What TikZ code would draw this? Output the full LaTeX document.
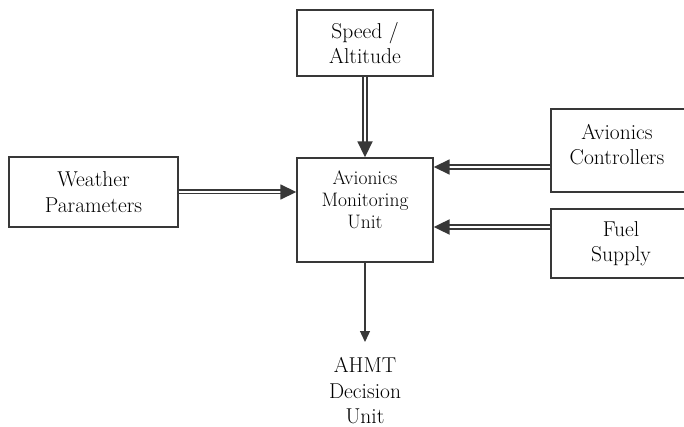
\documentclass[tikz,border=0pt]{standalone}
\usepackage{fontspec}
\usetikzlibrary{positioning,arrows.meta}

\begin{document}
\begin{tikzpicture}[x=1pt,y=-1pt,
  unitbox/.style={draw=black!78,line width=1.4pt,align=center,inner sep=2pt,
    font=\fontsize{21.5}{25.5}\selectfont},
  monlabel/.style={align=center,font=\fontsize{19.5}{22}\selectfont},
  feed/.style={draw=black!78,line width=1.8pt,double,double distance=2pt,
    -{Triangle[length=16pt,width=15pt]}},
  result/.style={draw=black!78,line width=1.3pt,-{Triangle[length=11pt,width=10pt]}}]
\useasboundingbox[fill=white] (0,0) rectangle (684,427);
\node[unitbox,minimum width=136pt,minimum height=66pt] (speed) at (365,43) {Speed /\\Altitude};
\node[unitbox,minimum width=136pt,minimum height=104pt,
  label={[monlabel,yshift=10pt]center:Avionics\\Monitoring\\Unit}] (mon) at (365,210) {};
\node[unitbox,minimum width=169pt,minimum height=70pt] (weather) at (93.5,192) {Weather\\Parameters};
\node[unitbox,minimum width=140pt,minimum height=83pt,
  label={[unitbox,draw=none,yshift=6pt,xshift=-4pt]center:Avionics\\Controllers}] (ctrl) at (621,150.5) {};
\node[unitbox,minimum width=140pt,minimum height=69pt] (fuel) at (621,243.5) {Fuel\\Supply};
\node[unitbox,draw=none,anchor=north,inner ysep=15pt] (ahmt) at (365,342) {AHMT\\Decision\\Unit};
\draw[feed] (speed) -- (mon);
\draw[feed,line width=1.6pt,double distance=1.8pt] (weather.east) -- (weather.east -| mon.west);
\foreach \n/\s/\w in {ctrl/-16.5/1.8,fuel/16.5/2.2}
  \draw[feed,line width=\w pt] ([yshift=\s pt]\n.west) -- ([yshift=\s pt]\n.west -| mon.east);
\draw[result] (mon) -- (ahmt.north);
\end{tikzpicture}
\end{document}
